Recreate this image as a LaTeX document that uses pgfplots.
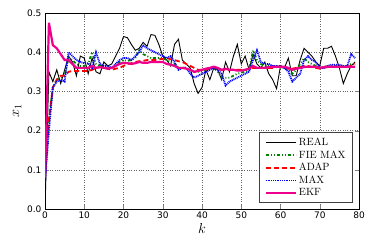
\documentclass[border=0pt]{standalone}
\usepackage{fontspec}
\usepackage{pgfplots}
\usepackage{pgfplotstable}
\pgfplotsset{compat=1.18}
\newfontfamily\dejavu{DejaVu Sans}
\definecolor{mgreen}{rgb}{0,0.5,0}
\pgfplotstableread{
k real fie adap max ekf
0 0.000 0.080 0.080 0.070 0.080
1 0.350 0.230 0.230 0.200 0.475
2 0.325 0.310 0.310 0.310 0.418
3 0.355 0.330 0.330 0.325 0.410
4 0.320 0.335 0.340 0.330 0.395
5 0.355 0.340 0.340 0.325 0.380
6 0.390 0.385 0.350 0.400 0.380
7 0.375 0.380 0.352 0.390 0.370
8 0.340 0.370 0.352 0.380 0.360
9 0.390 0.365 0.352 0.375 0.360
10 0.385 0.365 0.352 0.372 0.360
11 0.345 0.370 0.352 0.372 0.360
12 0.385 0.400 0.355 0.360 0.365
13 0.350 0.370 0.360 0.400 0.360
14 0.345 0.365 0.362 0.370 0.362
15 0.375 0.360 0.362 0.365 0.360
16 0.365 0.360 0.358 0.365 0.358
17 0.370 0.360 0.355 0.360 0.360
18 0.390 0.365 0.358 0.370 0.365
19 0.410 0.375 0.360 0.380 0.370
20 0.440 0.380 0.365 0.385 0.373
21 0.437 0.378 0.370 0.385 0.372
22 0.420 0.380 0.372 0.380 0.370
23 0.405 0.385 0.375 0.390 0.372
24 0.410 0.405 0.377 0.400 0.375
25 0.425 0.395 0.378 0.418 0.373
26 0.415 0.390 0.380 0.410 0.373
27 0.445 0.385 0.380 0.405 0.375
28 0.443 0.385 0.380 0.400 0.375
29 0.420 0.385 0.382 0.395 0.375
30 0.390 0.385 0.383 0.390 0.375
31 0.380 0.380 0.385 0.385 0.370
32 0.365 0.375 0.382 0.390 0.368
33 0.420 0.370 0.380 0.375 0.365
34 0.433 0.360 0.377 0.355 0.360
35 0.380 0.360 0.375 0.360 0.360
36 0.370 0.360 0.370 0.360 0.358
37 0.360 0.355 0.365 0.345 0.355
38 0.320 0.350 0.360 0.335 0.350
39 0.295 0.350 0.355 0.340 0.352
40 0.310 0.350 0.355 0.345 0.355
41 0.355 0.355 0.355 0.350 0.358
42 0.330 0.360 0.358 0.355 0.360
43 0.360 0.360 0.360 0.360 0.363
44 0.355 0.350 0.358 0.355 0.360
45 0.330 0.335 0.355 0.345 0.355
46 0.375 0.335 0.355 0.315 0.358
47 0.350 0.335 0.355 0.325 0.355
48 0.390 0.340 0.355 0.330 0.355
49 0.420 0.345 0.355 0.335 0.353
50 0.370 0.348 0.355 0.340 0.353
51 0.390 0.350 0.355 0.345 0.355
52 0.355 0.355 0.358 0.350 0.358
53 0.395 0.405 0.360 0.380 0.365
54 0.370 0.380 0.360 0.405 0.360
55 0.360 0.370 0.360 0.375 0.360
56 0.375 0.365 0.360 0.370 0.360
57 0.345 0.365 0.360 0.370 0.362
58 0.330 0.365 0.360 0.365 0.363
59 0.307 0.365 0.362 0.365 0.363
60 0.365 0.362 0.362 0.365 0.363
61 0.360 0.360 0.360 0.360 0.363
62 0.385 0.355 0.358 0.350 0.360
63 0.340 0.345 0.358 0.325 0.355
64 0.340 0.355 0.360 0.335 0.358
65 0.380 0.370 0.362 0.345 0.360
66 0.410 0.385 0.365 0.380 0.362
67 0.400 0.375 0.365 0.390 0.363
68 0.390 0.370 0.362 0.380 0.363
69 0.375 0.365 0.360 0.375 0.363
70 0.365 0.360 0.358 0.360 0.360
71 0.410 0.362 0.360 0.360 0.362
72 0.410 0.365 0.362 0.365 0.363
73 0.415 0.365 0.362 0.368 0.363
74 0.390 0.365 0.362 0.368 0.363
75 0.360 0.365 0.362 0.368 0.363
76 0.320 0.365 0.362 0.365 0.363
77 0.345 0.365 0.363 0.365 0.363
78 0.365 0.370 0.365 0.395 0.363
79 0.375 0.370 0.370 0.385 0.363
}\data
\begin{document}
\begin{tikzpicture}
\begin{axis}[
  name=ax,
  scale only axis, width=314pt, height=196pt,
  xmin=0, xmax=80, ymin=0, ymax=0.5,
  xtick={0,10,...,80}, ytick={0,0.1,...,0.5},
  yticklabel style={/pgf/number format/fixed,/pgf/number format/fixed zerofill,/pgf/number format/precision=1},
  /pgf/number format/assume math mode=true,
  tick label style={font=\dejavu\fontsize{9}{10}\selectfont},
  xticklabel style={yshift=1pt},
  tick align=inside, tick pos=both,
  major tick length=4pt,
  axis line style={black, line width=0.8pt},
  grid=major, grid style={black!60, dotted, line width=0.5pt},
  xlabel={$k$}, ylabel={$x_1$},
  label style={font=\fontsize{14}{16}\selectfont},
  xlabel style={yshift=2pt},
  ylabel style={yshift=-1pt},
  legend style={at={(0.981,0.031)}, anchor=south east, draw=black!75, line width=0.9pt,
    font=\fontsize{10.5}{11}\selectfont, row sep=-0.3pt, inner xsep=5pt, inner ysep=3pt},
  legend cell align=left,
  legend image code/.code={\draw[#1] (0pt,0pt) -- (20pt,0pt); \path (0pt,0pt) -- (30pt,0pt);},
]
\addplot[black, line width=0.9pt] table[x=k,y=real]{\data};
\addlegendentry{REAL}
\addplot[mgreen, line width=1.8pt, dash pattern=on 3pt off 2pt on 1pt off 2pt on 1pt off 2pt] table[x=k,y=fie]{\data};
\addlegendentry{FIE MAX}
\addplot[red, line width=1.8pt, dash pattern=on 5pt off 3pt] table[x=k,y=adap]{\data};
\addlegendentry{ADAP}
\addplot[blue, line width=1.8pt, dash pattern=on 1pt off 0.8pt] table[x=k,y=max]{\data};
\addlegendentry{MAX}
\addplot[magenta, line width=2.2pt] table[x=k,y=ekf]{\data};
\addlegendentry{EKF}
\end{axis}
\pgfresetboundingbox
\path ([shift={(-45pt,-40pt)}]ax.south west) rectangle ([shift={(15pt,13pt)}]ax.north east);
\end{tikzpicture}
\end{document}
